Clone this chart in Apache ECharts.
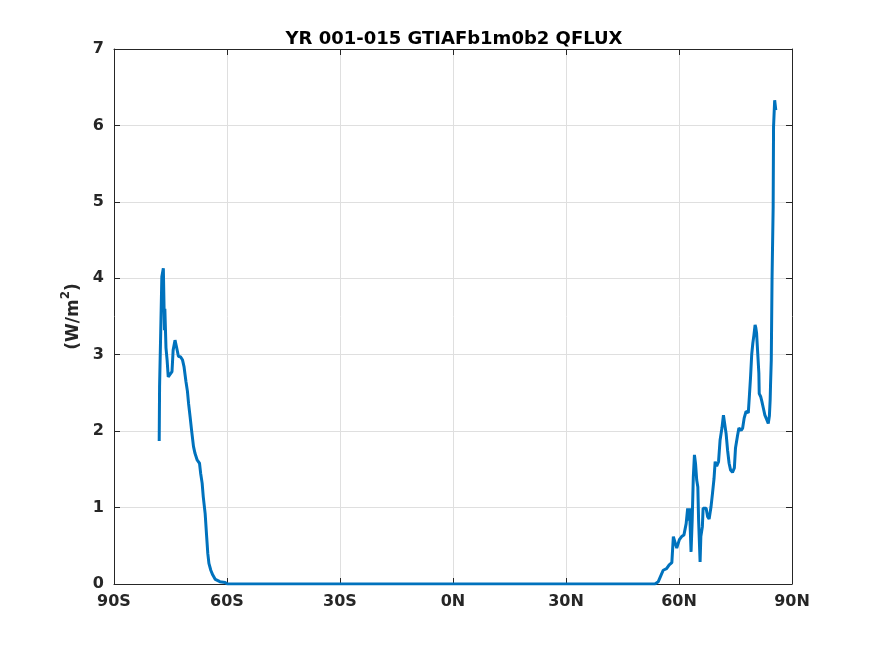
<!doctype html>
<html>
<head>
    <meta charset="utf-8" />
    <title>QFLUX</title>
    <script src="https://cdn.jsdelivr.net/npm/echarts@6/dist/echarts.min.js"></script>
    <style>
        html, body { margin: 0; padding: 0; background: #fff; }
        #main { width: 875px; height: 656px; }
    </style>
</head>
<body>
<div id="main"></div>
<script type="text/javascript">
    // latitude (deg, negative = S) and zonal mean QFLUX (W/m2)
    var lats = [
        -78.0, -77.9, -77.6, -77.3, -76.9, -76.6, -76.5, -76.2, -75.9, -75.6,
        -75.1, -74.6, -74.3, -73.8, -73.4, -72.9, -72.3, -71.8, -71.4, -70.9,
        -70.5, -70.2, -69.8, -69.4, -68.9, -68.5, -67.9, -67.3, -67.0, -66.6,
        -66.3, -65.8, -65.4, -65.1, -64.8, -64.3, -63.8, -63.1, -61.9, -60.5,
        -59.9,
        53.6, 54.5, 55.1, 55.8, 56.7, 57.4, 58.1, 58.5, 58.9, 59.4,
        60.1, 60.7, 61.3, 61.9, 62.3, 62.7, 62.8, 63.2, 63.5, 63.8,
        64.1, 64.4, 64.7, 65.0, 65.2, 65.6, 65.8, 66.2, 66.4, 67.2,
        67.6, 68.0, 68.5, 68.9, 69.3, 69.6, 70.0, 70.5, 70.9, 71.4,
        71.8, 72.2, 72.5, 72.9, 73.3, 73.7, 74.2, 74.7, 75.0, 75.5,
        75.9, 76.5, 76.9, 77.3, 77.8, 78.4, 78.7, 79.0, 79.3, 79.6,
        79.9, 80.2, 80.4, 80.6, 80.9, 81.2, 81.3, 81.7, 82.0, 82.4,
        82.8, 83.3, 83.7, 84.0, 84.2, 84.3, 84.5, 84.7, 85.0, 85.1,
        85.4, 85.7
    ];
    var qflux = [
        1.87, 2.58, 3.29, 4.02, 4.13, 3.32, 3.60, 3.09, 2.93, 2.71,
        2.72, 2.78, 3.06, 3.19, 3.10, 2.98, 2.97, 2.93, 2.84, 2.65,
        2.52, 2.36, 2.19, 2.01, 1.80, 1.71, 1.62, 1.58, 1.45, 1.32,
        1.14, 0.92, 0.62, 0.40, 0.27, 0.18, 0.12, 0.06, 0.03, 0.02,
        0.00,
        0.00, 0.03, 0.10, 0.18, 0.20, 0.25, 0.28, 0.62, 0.60, 0.47,
        0.58, 0.62, 0.64, 0.79, 0.99, 0.83, 0.99, 0.42, 0.83, 1.40,
        1.69, 1.57, 1.36, 1.27, 0.84, 0.29, 0.62, 0.75, 0.99, 0.99,
        0.88, 0.85, 1.01, 1.19, 1.38, 1.60, 1.54, 1.60, 1.88, 2.04,
        2.21, 2.21, 1.97, 1.75, 1.58, 1.49, 1.46, 1.52, 1.78, 1.93,
        2.04, 2.01, 2.04, 2.17, 2.26, 2.24, 2.47, 2.71, 3.00, 3.15,
        3.26, 3.39, 3.35, 3.28, 3.02, 2.76, 2.49, 2.45, 2.39, 2.30,
        2.21, 2.15, 2.10, 2.20, 2.41, 2.60, 2.93, 3.98, 4.94, 5.98,
        6.33, 6.20
    ];
    var xTicks = ['90S', '60S', '30S', '0N', '30N', '60N', '90N'];

    var data = lats.map(function (la, i) { return [la, qflux[i]]; });
    var txt = '#262626';
    var font = 'DejaVu Sans';

    var myChart = echarts.init(document.getElementById('main'));

    function axisBase(extra) {
        var o = {
            axisLine: { show: true, onZero: false, lineStyle: { color: txt, width: 1 } },
            axisTick: { show: true, inside: true, length: 6, lineStyle: { color: txt, width: 1 } },
            splitLine: { show: false }
        };
        for (var k in extra) o[k] = extra[k];
        return o;
    }

    var option = {
        backgroundColor: '#fff',
        animation: false,
        title: {
            text: 'YR 001-015 GTIAFb1m0b2 QFLUX',
            left: 449, top: 25, textAlign: 'center',
            textStyle: { fontFamily: font, fontWeight: 'bold', fontSize: 18, color: '#000' }
        },
        grid: { left: 114, right: 83, top: 49, bottom: 72 },
        xAxis: [
            axisBase({
                type: 'value', min: -90, max: 90, interval: 30, position: 'bottom',
                axisLabel: {
                    margin: 10, color: txt, fontFamily: font, fontWeight: 'bold', fontSize: 16,
                    formatter: function (v) { return xTicks[(v + 90) / 30]; }
                },
                splitLine: { show: true, lineStyle: { color: '#dfdfdf', width: 1 } }
            }),
            axisBase({
                type: 'value', min: -90, max: 90, interval: 30, position: 'top',
                axisLabel: { show: false }
            })
        ],
        yAxis: [
            axisBase({
                type: 'value', min: 0, max: 7, interval: 1, position: 'left',
                name: '{b|(W/m}{sup|2}{b|)}', nameLocation: 'middle', nameGap: 26, nameRotate: 90,
                nameTextStyle: {
                    fontFamily: font, fontWeight: 'bold', fontSize: 17, color: txt,
                    rich: {
                        b: { fontFamily: font, fontWeight: 'bold', fontSize: 17, color: txt, lineHeight: 22, verticalAlign: 'bottom' },
                        sup: { fontFamily: font, fontWeight: 'bold', fontSize: 12, color: txt, lineHeight: 22, verticalAlign: 'top', padding: [0, 0, 10, 0] }
                    }
                },
                axisLabel: { margin: 10, color: txt, fontFamily: font, fontWeight: 'bold', fontSize: 16 },
                splitLine: { show: true, lineStyle: { color: '#dfdfdf', width: 1 } }
            }),
            axisBase({
                type: 'value', min: 0, max: 7, interval: 1, position: 'right',
                axisLabel: { show: false }
            })
        ],
        series: [{
            type: 'line',
            data: data,
            showSymbol: false,
            symbol: 'none',
            lineStyle: { color: '#0072BD', width: 3 },
            z: 3
        }]
    };
    myChart.setOption(option);
</script>
</body>
</html>
